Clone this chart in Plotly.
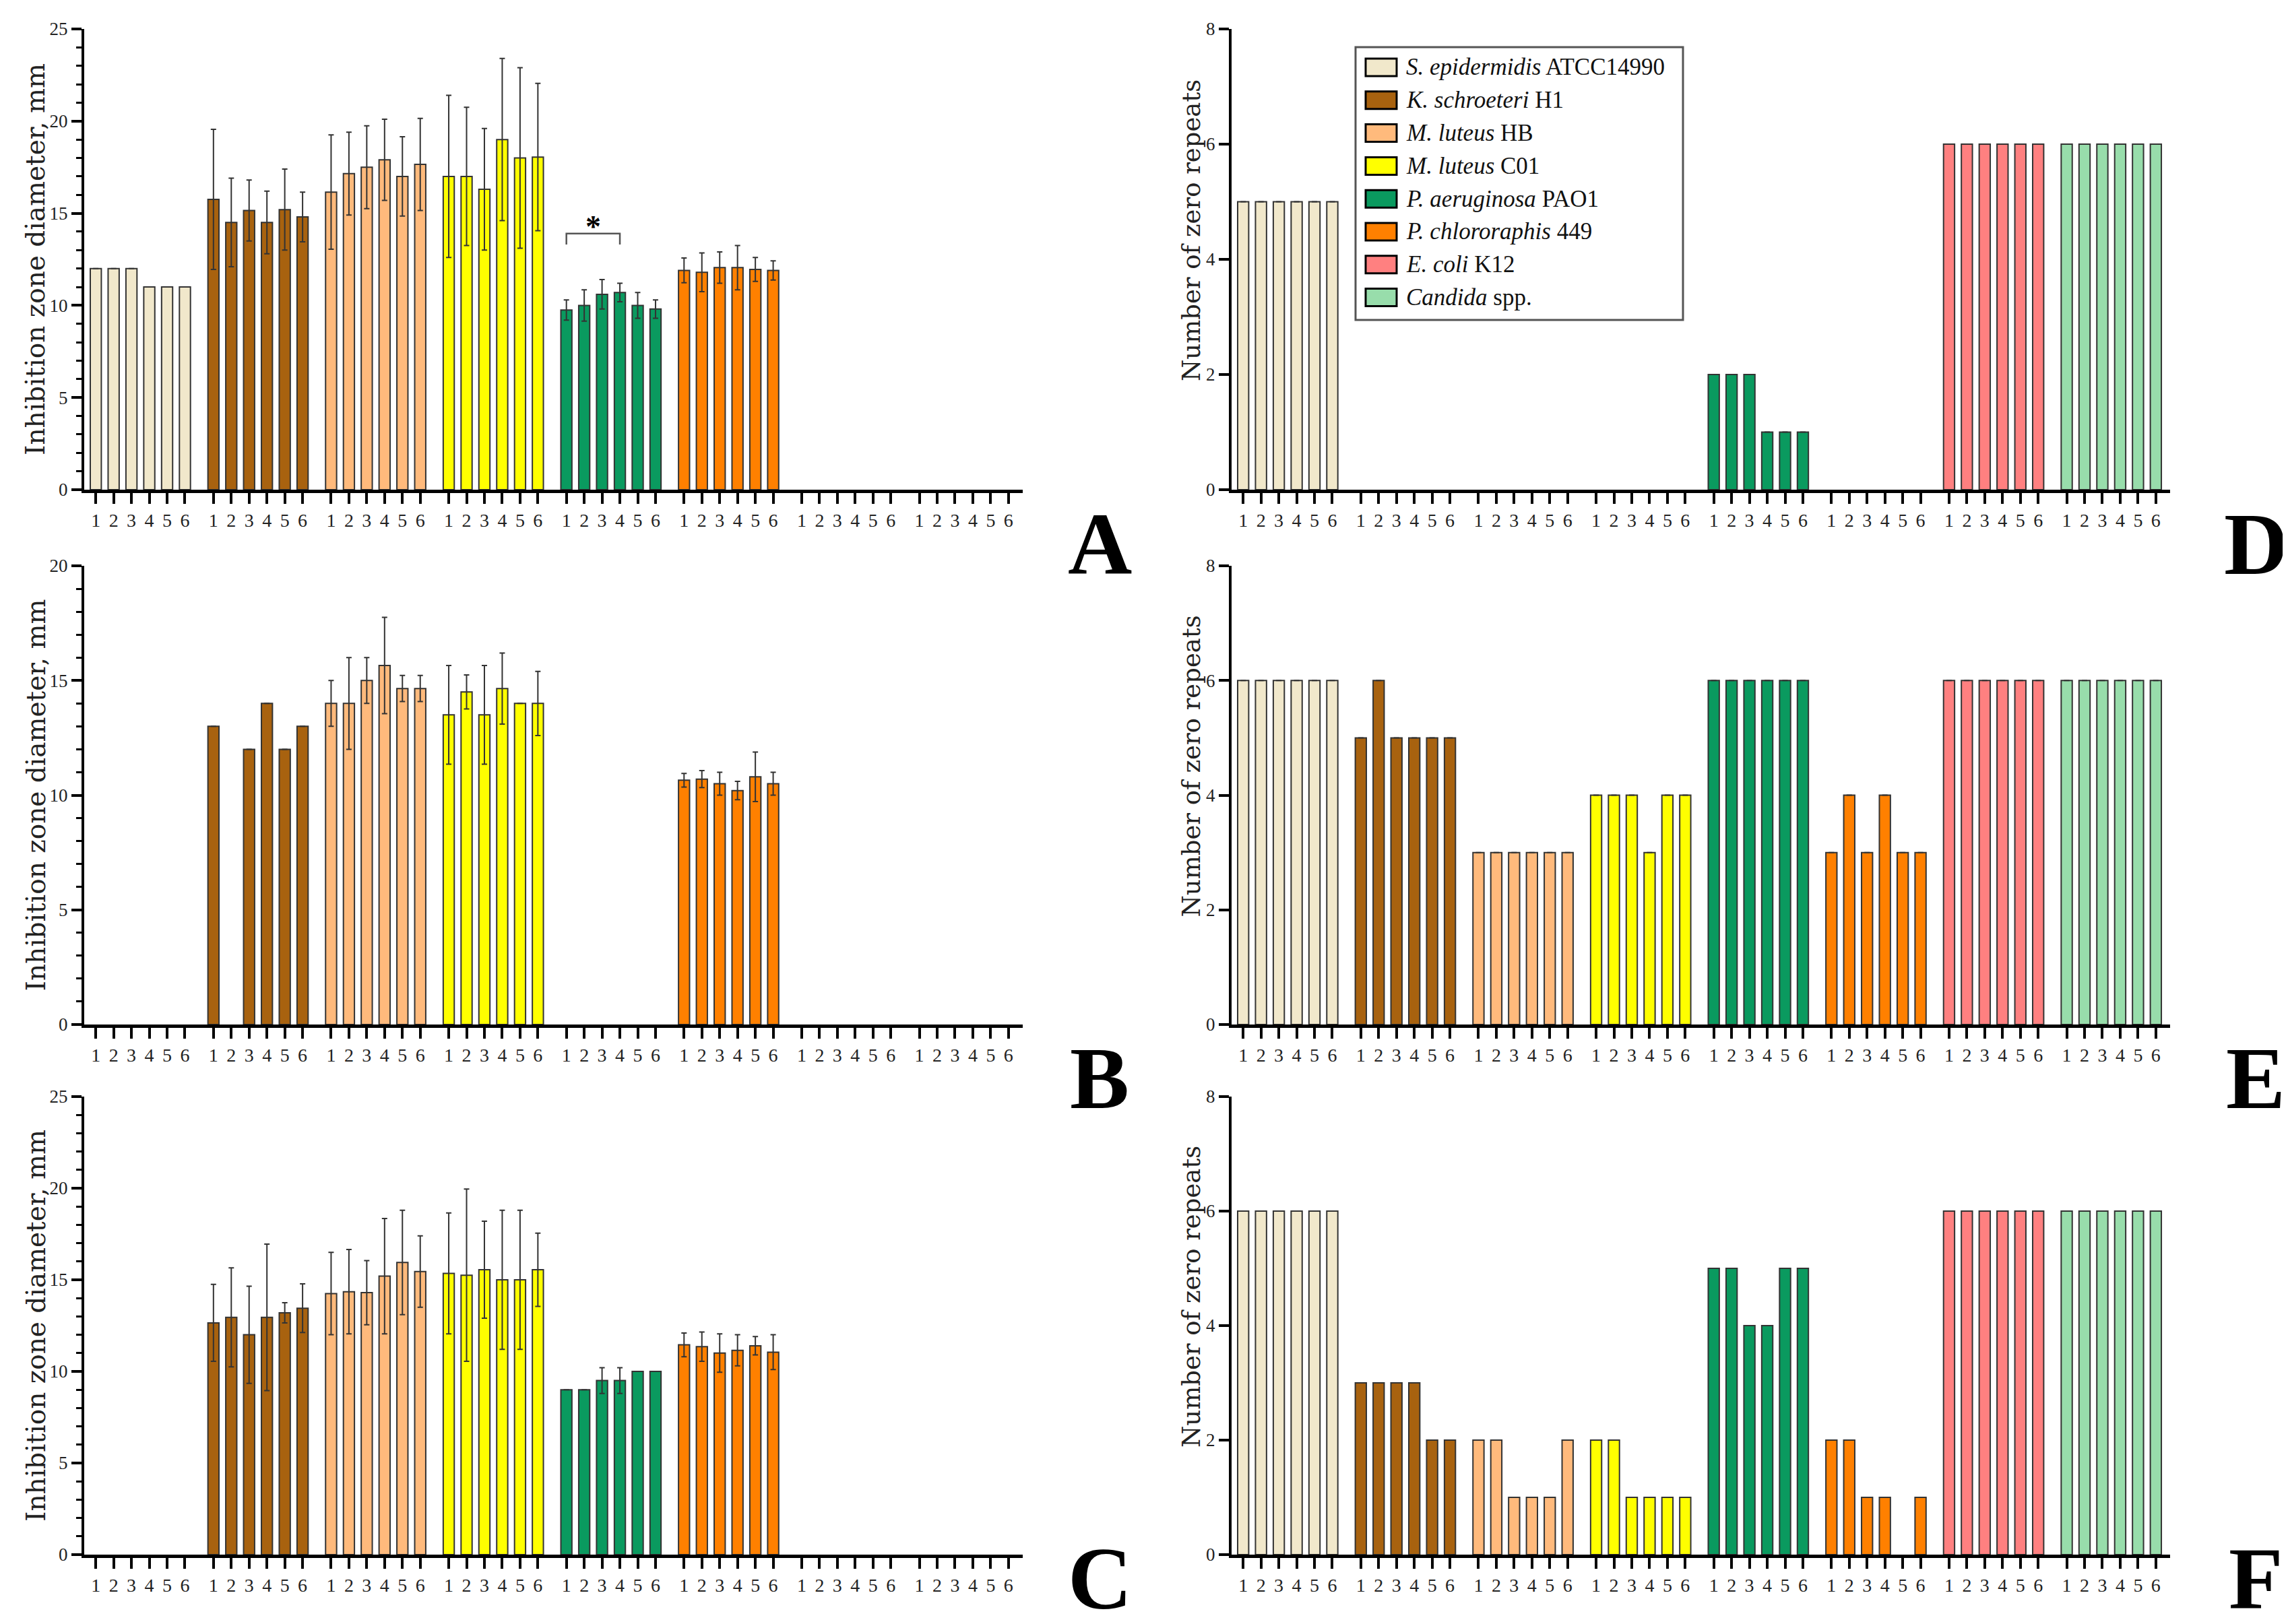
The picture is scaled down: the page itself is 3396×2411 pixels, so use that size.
import plotly.graph_objects as go

# ---------------- data ----------------
SPECIES_ITALIC = ["S. epidermidis", "K. schroeteri", "M. luteus", "M. luteus",
                  "P. aeruginosa", "P. chlororaphis", "E. coli", "Candida"]
SPECIES_PLAIN = ["ATCC14990", "H1", "HB", "C01", "PAO1", "449", "K12", "spp."]
COLORS = ["#F1E8CB", "#A8620F", "#FFBA7C", "#FFFF00", "#0A9A5F", "#FF8000",
          "#FF8080", "#98DDAB"]
REPLICATES = ["1", "2", "3", "4", "5", "6"]

# Panel A: inhibition zone diameter, mm (mean, sd)
A_MEAN = [[12, 12, 12, 11, 11, 11],
          [15.75, 14.5, 15.15, 14.5, 15.2, 14.8],
          [16.15, 17.15, 17.5, 17.9, 17.0, 17.65],
          [17.0, 17.0, 16.3, 19.0, 18.0, 18.05],
          [9.75, 10.0, 10.6, 10.7, 10.0, 9.8],
          [11.9, 11.8, 12.05, 12.05, 11.95, 11.9],
          [0, 0, 0, 0, 0, 0],
          [0, 0, 0, 0, 0, 0]]
A_ERR = [[0, 0, 0, 0, 0, 0],
         [3.8, 2.4, 1.65, 1.7, 2.2, 1.35],
         [3.1, 2.25, 2.25, 2.2, 2.15, 2.5],
         [4.4, 3.75, 3.3, 4.4, 4.9, 4.0],
         [0.55, 0.85, 0.8, 0.5, 0.7, 0.5],
         [0.67, 1.05, 0.85, 1.2, 0.65, 0.52],
         [0, 0, 0, 0, 0, 0],
         [0, 0, 0, 0, 0, 0]]

# Panel B
B_MEAN = [[0, 0, 0, 0, 0, 0],
          [13, 0, 12, 14, 12, 13],
          [14.0, 14.0, 15.0, 15.65, 14.65, 14.65],
          [13.5, 14.5, 13.5, 14.65, 14.0, 14.0],
          [0, 0, 0, 0, 0, 0],
          [10.65, 10.7, 10.5, 10.2, 10.8, 10.5],
          [0, 0, 0, 0, 0, 0],
          [0, 0, 0, 0, 0, 0]]
B_ERR = [[0, 0, 0, 0, 0, 0],
         [0, 0, 0, 0, 0, 0],
         [1.0, 2.0, 1.0, 2.1, 0.57, 0.57],
         [2.15, 0.74, 2.15, 1.55, 0, 1.4],
         [0, 0, 0, 0, 0, 0],
         [0.3, 0.37, 0.5, 0.4, 1.08, 0.5],
         [0, 0, 0, 0, 0, 0],
         [0, 0, 0, 0, 0, 0]]

# Panel C
C_MEAN = [[0, 0, 0, 0, 0, 0],
          [12.65, 12.95, 12.0, 12.95, 13.2, 13.45],
          [14.25, 14.35, 14.3, 15.2, 15.95, 15.45],
          [15.35, 15.25, 15.55, 15.0, 15.0, 15.55],
          [9.0, 9.0, 9.5, 9.5, 10.0, 10.0],
          [11.45, 11.35, 11.0, 11.15, 11.4, 11.05],
          [0, 0, 0, 0, 0, 0],
          [0, 0, 0, 0, 0, 0]]
C_ERR = [[0, 0, 0, 0, 0, 0],
         [2.1, 2.7, 2.65, 4.0, 0.55, 1.33],
         [2.25, 2.3, 1.75, 3.15, 2.85, 1.95],
         [3.3, 4.7, 2.65, 3.8, 3.8, 2.0],
         [0, 0, 0.7, 0.7, 0, 0],
         [0.65, 0.8, 1.05, 0.85, 0.5, 0.95],
         [0, 0, 0, 0, 0, 0],
         [0, 0, 0, 0, 0, 0]]

# Panels D-F: number of zero repeats
D_COUNT = [[5, 5, 5, 5, 5, 5],
           [0, 0, 0, 0, 0, 0],
           [0, 0, 0, 0, 0, 0],
           [0, 0, 0, 0, 0, 0],
           [2, 2, 2, 1, 1, 1],
           [0, 0, 0, 0, 0, 0],
           [6, 6, 6, 6, 6, 6],
           [6, 6, 6, 6, 6, 6]]
E_COUNT = [[6, 6, 6, 6, 6, 6],
           [5, 6, 5, 5, 5, 5],
           [3, 3, 3, 3, 3, 3],
           [4, 4, 4, 3, 4, 4],
           [6, 6, 6, 6, 6, 6],
           [3, 4, 3, 4, 3, 3],
           [6, 6, 6, 6, 6, 6],
           [6, 6, 6, 6, 6, 6]]
F_COUNT = [[6, 6, 6, 6, 6, 6],
           [3, 3, 3, 3, 2, 2],
           [2, 2, 1, 1, 1, 2],
           [2, 2, 1, 1, 1, 1],
           [5, 5, 4, 4, 5, 5],
           [2, 2, 1, 1, 0, 1],
           [6, 6, 6, 6, 6, 6],
           [6, 6, 6, 6, 6, 6]]

# significance bracket in panel A (group index, replicate from/to, levels)
SIG_GROUP, SIG_FROM, SIG_TO = 4, 0, 3
SIG_TOP, SIG_LEG, SIG_STAR_Y = 13.9, 13.3, 14.7

Y_TITLE_LEFT = "Inhibition zone diameter, mm"
Y_TITLE_RIGHT = "Number of zero repeats"

# ---------------- layout helpers ----------------
W, H = 3396, 2411
GROUP_PITCH = 6.6
BAR_W = 0.62
X_RANGE = [-0.65, 52.0]
FONT = "Liberation Serif"
TITLE_FONT = "DejaVu Serif"
OUTLINE = "#333333"


def px_x(p):
    return p / W


def px_y(p):
    return 1 - p / H


def pos(g, i):
    return g * GROUP_PITCH + i


XCOL = [(117, 1510), (1820, 3213)]
YROW = [(35, 719), (832, 1513), (1620, 2300)]
LETTER_Y = [799, 1592, None]   # None -> sit on the bottom edge
LETTER_X = [1624, 3340]
TITLE_X = [45, 1760]
TITLE_SHIFT = [0, -43]
TITLE_SIZE = [39, 37]

panels = [
    ("A", A_MEAN, A_ERR, 0, 0, 25, 5, 1),
    ("B", B_MEAN, B_ERR, 0, 1, 20, 5, 1),
    ("C", C_MEAN, C_ERR, 0, 2, 25, 5, 1),
    ("D", D_COUNT, None, 1, 0, 8, 2, None),
    ("E", E_COUNT, None, 1, 1, 8, 2, None),
    ("F", F_COUNT, None, 1, 2, 8, 2, None),
]

fig = go.Figure()
tickvals = [pos(g, i) for g in range(len(COLORS)) for i in range(len(REPLICATES))]
ticktext = [REPLICATES[i] for g in range(len(COLORS)) for i in range(len(REPLICATES))]

annotations = []
shapes = []
for k, (letter, vals, errs, col, row, ymax, dtick, minor) in enumerate(panels, start=1):
    xa = "x" if k == 1 else f"x{k}"
    ya = "y" if k == 1 else f"y{k}"
    for g in range(len(COLORS)):
        e = errs[g] if errs is not None else [0] * len(REPLICATES)
        keep = [i for i in range(len(REPLICATES)) if vals[g][i] > 0]
        if not keep:
            continue
        fig.add_trace(go.Bar(
            x=[pos(g, i) for i in keep],
            y=[vals[g][i] for i in keep],
            width=BAR_W,
            marker=dict(color=COLORS[g], line=dict(color=OUTLINE, width=2)),
            error_y=dict(type="data", array=[e[i] for i in keep], visible=True,
                         color="#333333", thickness=2, width=4),
            xaxis=xa, yaxis=ya, showlegend=False,
            name=SPECIES_ITALIC[g] + " " + SPECIES_PLAIN[g],
        ))
    x0, x1 = XCOL[col]
    y0, y1 = YROW[row]
    xkey = "xaxis" if k == 1 else f"xaxis{k}"
    ykey = "yaxis" if k == 1 else f"yaxis{k}"
    yaxis = dict(
        domain=[px_y(y1), px_y(y0)], range=[0, ymax], anchor=xa,
        tick0=0, dtick=dtick, ticks="outside", ticklen=15, tickwidth=3.5,
        tickcolor="black", showline=True, linewidth=4, linecolor="black",
        showgrid=False, zeroline=False, automargin=False,
        tickfont=dict(family=FONT, size=27, color="#222222"),
    )
    if minor:
        yaxis["minor"] = dict(dtick=minor, ticks="outside", ticklen=8,
                              tickwidth=3, tickcolor="black", showgrid=False)
    fig.update_layout({
        xkey: dict(
            domain=[px_x(x0), px_x(x1)], range=X_RANGE, anchor=ya,
            tickmode="array", tickvals=tickvals, ticktext=ticktext,
            ticks="outside", ticklen=16, tickwidth=4, tickcolor="black",
            showline=True, linewidth=5, linecolor="black",
            showgrid=False, zeroline=False, automargin=False,
            tickfont=dict(family=FONT, size=28, color="#222222"),
        ),
        ykey: yaxis,
    })
    # y title
    annotations.append(dict(
        text=Y_TITLE_LEFT if col == 0 else Y_TITLE_RIGHT,
        xref="paper", yref="paper",
        x=px_x(TITLE_X[col]), y=px_y((y0 + y1) / 2 + TITLE_SHIFT[col]),
        xanchor="center", yanchor="middle", textangle=-90, showarrow=False,
        font=dict(family=TITLE_FONT, size=TITLE_SIZE[col], color="#222222"),
    ))
    # panel letter
    if LETTER_Y[row] is None:
        ly, yanc = 0.0, "bottom"
    else:
        ly, yanc = px_y(LETTER_Y[row]), "middle"
    annotations.append(dict(
        text=f"<b>{letter}</b>", xref="paper", yref="paper",
        x=px_x(LETTER_X[col]), y=ly,
        xanchor="center", yanchor=yanc, showarrow=False,
        font=dict(family=FONT, size=132, color="black"),
    ))

# significance bracket (panel A)
bx0 = pos(SIG_GROUP, SIG_FROM)
bx1 = pos(SIG_GROUP, SIG_TO)
shapes.append(dict(
    type="path", xref="x", yref="y",
    path=f"M {bx0},{SIG_LEG} L {bx0},{SIG_TOP} L {bx1},{SIG_TOP} L {bx1},{SIG_LEG}",
    line=dict(color="#555555", width=2.5),
))
annotations.append(dict(
    text="<b>*</b>", xref="x", yref="y", x=(bx0 + bx1) / 2, y=SIG_STAR_Y,
    yshift=-12, showarrow=False, xanchor="center", yanchor="middle",
    font=dict(family=FONT, size=46, color="black"),
))

# legend (manual, in panel D)
LEG_BOX = (2004, 62, 2490, 467)
LEG_ROW0, LEG_ROW_STEP = 92, 48.8
shapes.append(dict(type="rect", xref="paper", yref="paper",
                   x0=px_x(LEG_BOX[0]), x1=px_x(LEG_BOX[2]),
                   y0=px_y(LEG_BOX[3]), y1=px_y(LEG_BOX[1]),
                   line=dict(color="#555555", width=3), fillcolor="white",
                   layer="above"))
for g in range(len(COLORS)):
    cy = LEG_ROW0 + g * LEG_ROW_STEP
    shapes.append(dict(type="rect", xref="paper", yref="paper",
                       x0=px_x(2019), x1=px_x(2065),
                       y0=px_y(cy + 13), y1=px_y(cy - 13),
                       line=dict(color="black", width=3),
                       fillcolor=COLORS[g], layer="above"))
    annotations.append(dict(
        text=f"<i>{SPECIES_ITALIC[g]}</i> {SPECIES_PLAIN[g]}",
        xref="paper", yref="paper", x=px_x(2077), y=px_y(cy),
        xanchor="left", yanchor="middle", showarrow=False,
        font=dict(family=FONT, size=35, color="#111111"),
    ))

fig.update_layout(
    template="none",
    width=W, height=H,
    margin=dict(l=0, r=0, t=0, b=0),
    paper_bgcolor="white", plot_bgcolor="rgba(0,0,0,0)",
    barmode="overlay", showlegend=False,
    annotations=annotations, shapes=shapes,
)

fig.write_html("out.html")
